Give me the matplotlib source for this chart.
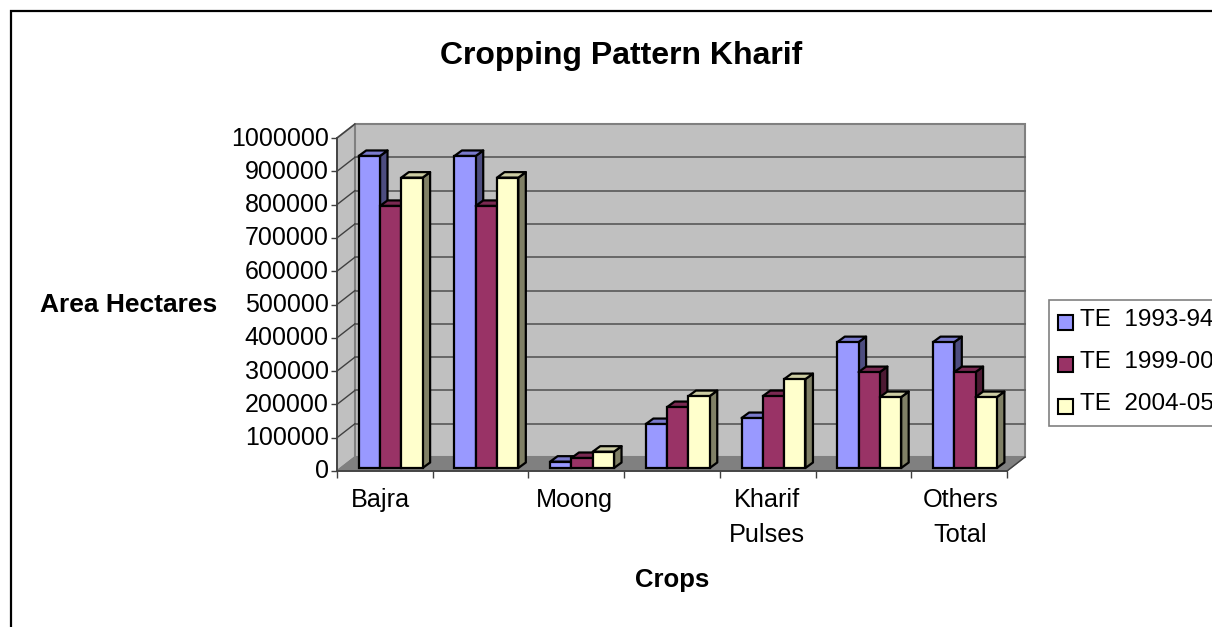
import numpy as np
import matplotlib
matplotlib.use("Agg")
import matplotlib.pyplot as plt
from matplotlib.patches import Polygon, Rectangle
from matplotlib.transforms import ScaledTranslation

W, H = 1212, 627

crops = ["Bajra", "", "Moong", "", "Kharif\nPulses", "", "Others\nTotal"]
series = ["TE  1993-94", "TE  1999-00", "TE  2004-05"]
te_1993 = [937000, 937000, 19000, 132000, 150000, 378000, 378000]
te_1999 = [787000, 787000, 30000, 183000, 216000, 288000, 288000]
te_2004 = [872000, 872000, 49000, 216000, 267000, 213000, 213000]
yticks = np.arange(0, 1000001, 100000)

fronts = ["#9999FF", "#993366", "#FFFFCC"]
sides = ["#4D4D80", "#4D1A33", "#808066"]
tops = ["#7A7ACC", "#7A2952", "#CCCCA3"]

plt.rcParams["font.family"] = ["Liberation Sans", "DejaVu Sans"]

fig = plt.figure(figsize=(W / 100, H / 100), dpi=100)
fig.patch.set_facecolor("white")

# plot box in pixels: front axis lines
left, right, top, bottom = 337, 1007, 138, 471
ax = fig.add_axes([left / W, 1 - bottom / H, (right - left) / W, (bottom - top) / H])
ax.set_xlim(-0.5, 6.5)
ax.set_ylim(0, 1000000)
ax.patch.set_visible(False)
for s in ax.spines.values():
    s.set_visible(False)

# size of one pixel in data units
px = 7 / (right - left)
py = 1000000 / (bottom - top)
wall_dx, wall_dy = 18 * px, 14 * py
bar_dx, bar_dy = 7.5 * px, 5.5 * py

x0, x1 = -0.5, 6.5
ymax = 1000000

# walls and floor
ax.add_patch(Polygon([(x0, 0), (x0 + wall_dx, wall_dy), (x0 + wall_dx, ymax + wall_dy), (x0, ymax)],
                     fc="#C0C0C0", ec="#808080", lw=1.3, clip_on=False, zorder=1))
ax.add_patch(Polygon([(x0 + wall_dx, wall_dy), (x1 + wall_dx, wall_dy), (x1 + wall_dx, ymax + wall_dy), (x0 + wall_dx, ymax + wall_dy)],
                     fc="#C0C0C0", ec="#808080", lw=1.5, clip_on=False, zorder=1))
ax.add_patch(Polygon([(x0, 0), (x1, 0), (x1 + wall_dx, wall_dy), (x0 + wall_dx, wall_dy)],
                     fc="#808080", ec="#808080", lw=1, clip_on=False, zorder=2))

# gridlines on the walls
for v in yticks[1:-1]:
    ax.plot([x0 + wall_dx, x1 + wall_dx], [v + wall_dy, v + wall_dy], color="#606060", lw=1.3,
            clip_on=False, zorder=2)
for v in yticks[1:]:
    ax.plot([x0, x0 + wall_dx], [v, v + wall_dy], color="#404040", lw=1, clip_on=False, zorder=2)

# axis lines
ax.plot([x0, x1], [0, 0], color="#404040", lw=1.3, clip_on=False, zorder=3)
ax.plot([x0, x0], [0, ymax], color="#404040", lw=1.3, clip_on=False, zorder=3)
ax.plot([x1, x1 + wall_dx], [0, wall_dy], color="#404040", lw=1, clip_on=False, zorder=3)

# bars
bar_w = 21.3 * px
base = 3 * py
offs = np.array([-15.5, 5.8, 27.1]) * px
z = 5
for i in range(len(crops)):
    for j, vals in enumerate([te_1993, te_1999, te_2004]):
        xc = i + offs[j]
        xa, xb = xc - bar_w / 2, xc + bar_w / 2
        y = base + vals[i]
        ax.add_patch(Polygon([(xb, base), (xb + bar_dx, base + bar_dy), (xb + bar_dx, y + bar_dy), (xb, y)],
                             fc=sides[j], ec="black", lw=1.6, joinstyle="round", clip_on=False, zorder=z))
        ax.add_patch(Polygon([(xa, y), (xb, y), (xb + bar_dx, y + bar_dy), (xa + bar_dx, y + bar_dy)],
                             fc=tops[j], ec="black", lw=1.6, joinstyle="round", clip_on=False, zorder=z))
        ax.bar(xc, vals[i], width=bar_w, bottom=base, color=fronts[j], edgecolor="black", lw=1.6,
               clip_on=False, zorder=z + 0.5)
        z += 1

# ticks
ax.set_yticks(yticks)
ax.set_yticklabels([str(v) for v in yticks], fontsize=18)
ax.set_xticks(np.arange(-0.5, 7, 1))
ax.set_xticklabels([])
ax.tick_params(axis="y", length=4, width=1, color="#404040", pad=2)
ax.tick_params(axis="x", length=5, width=1, color="#404040")
nudge = ScaledTranslation(0, 2 / 100, fig.dpi_scale_trans)
for lab in ax.get_yticklabels():
    lab.set_transform(lab.get_transform() + nudge)
for i, name in enumerate(crops):
    if name:
        fig.text((left + (i + 0.5) * (right - left) / 7 - 4 + i * 5 / 6) / W, 1 - 488 / H, name, ha="center", va="top",
                 fontsize=18.2, linespacing=1.57)

# titles
fig.text(621 / W, 1 - 56 / H, "Cropping Pattern Kharif", ha="center", va="center", fontsize=23, fontweight="bold")
fig.text(129 / W, 1 - 305 / H, "Area Hectares", ha="center", va="center", fontsize=19, fontweight="bold")
fig.text(672 / W, 1 - 580 / H, "Crops", ha="center", va="center", fontsize=18.5, fontweight="bold")

# legend, runs off the right edge like the original
fig.add_artist(Rectangle((1049 / W, 1 - 426 / H), 200 / W, 126 / H, transform=fig.transFigure,
                         fc="white", ec="#808080", lw=1.2, zorder=10))
for j, name in enumerate(series):
    yc = 322 + j * 42
    fig.add_artist(Rectangle((1058 / W, 1 - (yc + 8) / H), 15 / W, 15 / H, transform=fig.transFigure,
                             fc=fronts[j], ec="black", lw=1.5, zorder=11))
    fig.text(1080 / W, 1 - (yc - 2) / H, name, ha="left", va="center", fontsize=17.5, zorder=11)

# outer chart frame, right and bottom fall outside the image
fig.add_artist(Rectangle((11 / W, -0.1), 1.2, 1.1 - 11 / H, transform=fig.transFigure,
                         fc="none", ec="black", lw=1.6, zorder=12))

fig.savefig("out.png", dpi=100)
